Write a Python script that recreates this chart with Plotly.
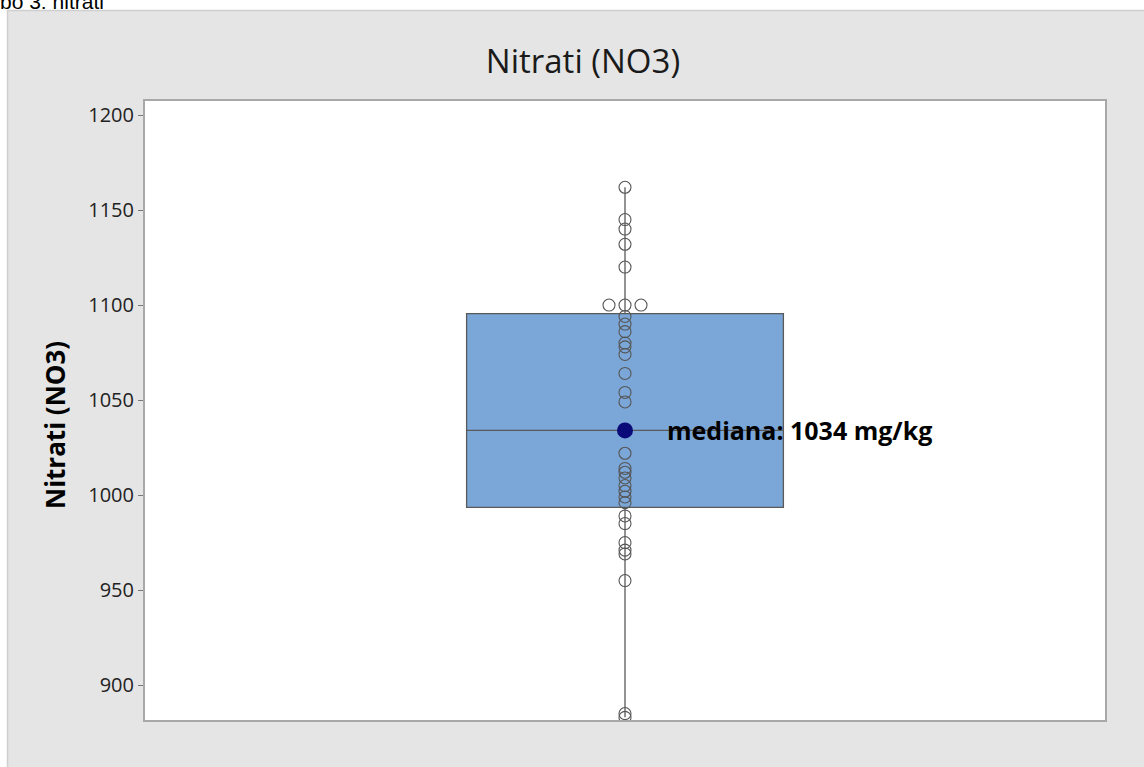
import plotly.graph_objects as go

# ---- data ----
values = [1162, 1145, 1140, 1132, 1120, 1100, 1100, 1100, 1094, 1090, 1086,
          1080, 1078, 1074, 1064, 1054, 1049, 1022, 1014, 1012, 1009, 1005,
          1002, 999, 996, 989, 985, 975, 971, 969, 955, 885, 883]
jitter = [0, 0, 0, 0, 0, -0.05, 0, 0.05, 0, 0, 0,
          0, 0, 0, 0, 0, 0, 0, 0, 0, 0, 0,
          0, 0, 0, 0, 0, 0, 0, 0, 0, 0, 0]
q1, median, q3 = 993.5, 1034, 1095.5
lower_fence, upper_fence = 883, 1162
median_label = "mediana: 1034 mg/kg"
title_text = "Nitrati (NO3)"
y_title = "Nitrati (NO3)"
caption = "bo 3: nitrati"
y_ticks = [900, 950, 1000, 1050, 1100, 1150, 1200]

FONT = "Open Sans"
W, H = 1144, 767
L, R, T, B = 145, 39, 101, 47
pw, ph = W - L - R, H - T - B


def px_x(p):
    return (p - L) / pw


def px_y(p):
    return (H - B - p) / ph


fig = go.Figure()
fig.add_trace(go.Box(
    x=[0], q1=[q1], median=[median], q3=[q3],
    lowerfence=[lower_fence], upperfence=[upper_fence],
    width=0.99, whiskerwidth=0,
    fillcolor="#7BA6D8", line=dict(color="#5a5a5a", width=1.3),
    boxpoints=False, hoverinfo="skip", showlegend=False,
))
fig.add_trace(go.Scatter(
    x=jitter, y=values, mode="markers",
    marker=dict(symbol="circle-open", size=12, color="#555555",
                line=dict(width=1.1, color="#555555")),
    showlegend=False, hoverinfo="y",
))
fig.add_trace(go.Scatter(
    x=[0], y=[median], mode="markers",
    marker=dict(symbol="circle", size=16, color="#0A0A78"),
    showlegend=False,
))
fig.add_annotation(
    x=0.125, y=median, xref="x", yref="y", text="<b>" + median_label + "</b>",
    showarrow=False, xanchor="left", yanchor="middle",
    font=dict(family=FONT, size=25, color="black"),
)
fig.add_annotation(
    x=px_x(55), y=px_y(425), xref="paper", yref="paper",
    text="<b>" + y_title + "</b>", textangle=-90,
    showarrow=False, xanchor="center", yanchor="middle",
    font=dict(family=FONT, size=26, color="black"),
)

# white strips around the grey panel
fig.add_shape(type="rect", xref="paper", yref="paper", layer="below",
              x0=px_x(0), x1=px_x(W), y0=px_y(10), y1=px_y(0),
              fillcolor="white", line=dict(width=0))
fig.add_shape(type="rect", xref="paper", yref="paper", layer="below",
              x0=px_x(0), x1=px_x(7), y0=px_y(H), y1=px_y(0),
              fillcolor="white", line=dict(width=0))
fig.add_shape(type="line", xref="paper", yref="paper", layer="below",
              x0=px_x(7), x1=px_x(W), y0=px_y(10.5), y1=px_y(10.5),
              line=dict(color="#cfcfcf", width=1.5))
fig.add_shape(type="line", xref="paper", yref="paper", layer="below",
              x0=px_x(7.5), x1=px_x(7.5), y0=px_y(H), y1=px_y(10),
              line=dict(color="#cfcfcf", width=1.5))
fig.add_annotation(
    x=px_x(-2), y=px_y(15), xref="paper", yref="paper", text=caption,
    showarrow=False, xanchor="left", yanchor="bottom",
    font=dict(family="Liberation Sans", size=21, color="black"),
)

fig.update_layout(
    width=W, height=H,
    margin=dict(l=L, r=R, t=T, b=B),
    paper_bgcolor="#e5e5e5", plot_bgcolor="white",
    title=dict(text=title_text, xref="container", x=583 / W, xanchor="center",
               y=1 - 61 / H, yanchor="middle",
               font=dict(family=FONT, size=33, color="#1a1a1a")),
    xaxis=dict(range=[-1.5, 1.5], showticklabels=False, showgrid=False,
               zeroline=False, showline=True, mirror=True,
               linecolor="#a8a8a8", linewidth=2, ticks=""),
    yaxis=dict(range=[881.6, 1207.4], tickvals=y_ticks, showgrid=False,
               zeroline=False, showline=True, mirror=True,
               linecolor="#a8a8a8", linewidth=2,
               ticks="outside", ticklen=5, tickcolor="#777777",
               tickfont=dict(family=FONT, size=20, color="#222222")),
)

fig.write_html("out.html", config={"displayModeBar": False},
               post_script="document.body.style.margin='0';")
